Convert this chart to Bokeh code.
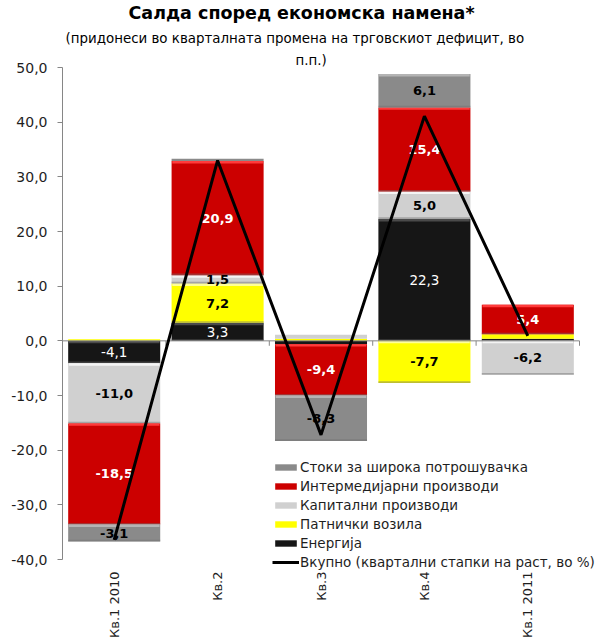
import numpy as np
from bokeh.plotting import figure
from bokeh.models import (ColumnDataSource, Title, Legend, LegendItem,
                          CustomJSTickFormatter, FixedTicker, Range1d)
from bokeh.core.properties import value
from bokeh.embed import file_html
from bokeh.resources import INLINE

# ---- data -------------------------------------------------------------
quarters = ["Кв.1 2010", "Кв.2", "Кв.3", "Кв.4", "Кв.1 2011"]

# contributions, percentage points (stacking order: bottom -> top)
energy = [-4.1, 3.3, -0.6, 22.3, 0.4]
vehicles = [0.3, 7.2, 0.4, -7.7, 0.8]
capital = [-11.0, 1.5, 0.7, 5.0, -6.2]
intermediate = [-18.5, 20.9, -9.4, 15.4, 5.4]
consumer = [-3.1, 0.4, -8.3, 6.1, 0.0]

# total quarterly growth rate, %
total = [-36.4, 33.0, -17.2, 41.1, 0.9]

y_ticks = [-40, -30, -20, -10, 0, 10, 20, 30, 40, 50]

FONT = "DejaVu Sans"

# series: (name, values, fill, highlight, label colour, label style)
series = [
    ("Енергија", energy, "#161616", "#4a4a4a", "white", "normal"),
    ("Патнички возила", vehicles, "#ffff00", "#ffff99", "black", "bold"),
    ("Капитални производи", capital, "#d0d0d0", "#f4f4f4", "black", "bold"),
    ("Интермедијарни производи", intermediate, "#cc0000", "#ff3b3b", "white", "bold"),
    ("Стоки за широка потрошувачка", consumer, "#8a8a8a", "#b4b4b4", "black", "bold"),
]

idx = np.arange(len(quarters), dtype=float)
BAR_W = 0.89
RIGHT_PAD = 0.203   # empty strip right of the last category (room for the legend)
BOTTOM_PAD = 3.47   # empty strip below the last tick (room for the legend)

p = figure(width=600, height=641,
           x_range=Range1d(-0.5, len(quarters) - 0.5 + RIGHT_PAD),
           y_range=Range1d(min(y_ticks) - BOTTOM_PAD, max(y_ticks)),
           output_backend="svg", toolbar_location=None,
           title=None, min_border_left=62, min_border_right=0,
           min_border_bottom=62, min_border_top=67)
p.outline_line_color = None
p.xgrid.grid_line_color = None
p.ygrid.grid_line_color = None
p.background_fill_color = "white"
p.border_fill_color = "white"

# ---- stacked bars -----------------------------------------------------
pos = np.zeros(len(quarters))
neg = np.zeros(len(quarters))
renderers = {}
label_rows = {"normal": {"x": [], "y": [], "t": [], "c": []},
              "bold": {"x": [], "y": [], "t": [], "c": []}}
for name, vals, fill, hi, lcol, lstyle in series:
    v = np.array(vals, dtype=float)
    bottom = np.where(v >= 0, pos, neg)
    top = bottom + v
    pos = np.where(v >= 0, top, pos)
    neg = np.where(v < 0, top, neg)
    upper = np.maximum(top, bottom)
    lower = np.minimum(top, bottom)
    src = ColumnDataSource(dict(x=idx, top=upper, bottom=lower))
    r = p.vbar(x="x", top="top", bottom="bottom", width=BAR_W, source=src,
               fill_color=fill, line_color=None)
    renderers[name] = r
    # bevel highlight along the upper edge of each segment
    big = (upper - lower) > 0.9
    hsrc = ColumnDataSource(dict(x=idx[big], top=upper[big],
                                 bottom=upper[big] - 0.45))
    p.vbar(x="x", top="top", bottom="bottom", width=BAR_W * 0.985, source=hsrc,
           fill_color=hi, line_color=None)
    # shadow along the lower edge
    ssrc = ColumnDataSource(dict(x=idx[big], top=lower[big] + 0.3,
                                 bottom=lower[big]))
    p.vbar(x="x", top="top", bottom="bottom", width=BAR_W, source=ssrc,
           fill_color="#6e6e6e", fill_alpha=0.45, line_color=None)
    for i in range(len(quarters)):
        if abs(v[i]) >= 1.0:
            rows = label_rows[lstyle]
            rows["x"].append(idx[i])
            rows["y"].append((upper[i] + lower[i]) / 2)
            rows["t"].append(f"{v[i]:.1f}".replace(".", ","))
            rows["c"].append(lcol)

# zero line with category separators
left_edge, right_edge = idx[0] - 0.5, idx[-1] + 0.5
p.segment(x0=[left_edge], y0=[0], x1=[right_edge], y1=[0],
          line_color="#868686", line_width=1)
bounds = idx + 0.5
p.segment(x0=bounds, y0=np.zeros_like(bounds), x1=bounds,
          y1=np.full_like(bounds, -0.9), line_color="#868686", line_width=1)

# value labels
for style, rows in label_rows.items():
    p.text(x=rows["x"], y=rows["y"], text=rows["t"], text_color=rows["c"],
           text_font=value(FONT),
           text_font_size="13px" if style == "bold" else "13.5px",
           text_font_style=style, text_align="center", text_baseline="middle")

# total line
line_r = p.line(idx, total, line_color="black", line_width=3)

# ---- axes -------------------------------------------------------------
yax = p.yaxis[0]
yax.ticker = FixedTicker(ticks=y_ticks)
yax.bounds = (min(y_ticks), max(y_ticks))
yax.formatter = CustomJSTickFormatter(code="return tick.toFixed(1).replace('.', ',');")
yax.axis_line_color = "#868686"
yax.major_tick_line_color = "#868686"
yax.major_tick_out = 5
yax.major_tick_in = 0
yax.minor_tick_line_color = None
yax.major_label_text_font = FONT
yax.major_label_text_font_size = "14px"
yax.major_label_text_color = "#1e1e1e"
yax.major_label_standoff = 10

xax = p.xaxis[0]
xax.ticker = FixedTicker(ticks=list(idx))
xax.major_label_overrides = {float(i): q for i, q in zip(idx, quarters)}
xax.major_label_orientation = np.pi / 2
xax.axis_line_color = None
xax.major_tick_line_color = None
xax.major_tick_out = 0
xax.major_tick_in = 0
xax.minor_tick_line_color = None
xax.major_label_text_font = FONT
xax.major_label_text_font_size = "13px"
xax.major_label_text_color = "#1e1e1e"
xax.major_label_standoff = -7

# ---- titles -----------------------------------------------------------
for text, size, style, off, so in [
        ("п.п.)", "13.4px", "normal", 233, 0),
        ("(придонеси во кварталната промена на трговскиот дефицит, во", "13.4px", "normal", 3, 10),
        ("Салда според економска намена*", "17.5px", "bold", 66, 1)]:
    p.add_layout(Title(text=text, align="left", offset=off, text_font=FONT,
                       text_font_size=size, text_font_style=style,
                       text_color="black", standoff=so), "above")

# ---- legend -----------------------------------------------------------
items = [LegendItem(label=name, renderers=[renderers[name]])
         for name in ["Стоки за широка потрошувачка", "Интермедијарни производи",
                      "Капитални производи", "Патнички возила", "Енергија"]]
items.append(LegendItem(label="Вкупно (квартални стапки на раст, во %)", renderers=[line_r]))
legend = Legend(items=items, location=(210, 7), orientation="vertical",
                label_text_font=FONT, label_text_font_size="13.5px",
                label_text_color="#1e1e1e", label_standoff=1,
                glyph_width=27, glyph_height=8, label_height=19, spacing=0,
                padding=0, margin=0, border_line_color=None,
                background_fill_alpha=0)
p.add_layout(legend)

open("out.html", "w").write(file_html(p, INLINE))
